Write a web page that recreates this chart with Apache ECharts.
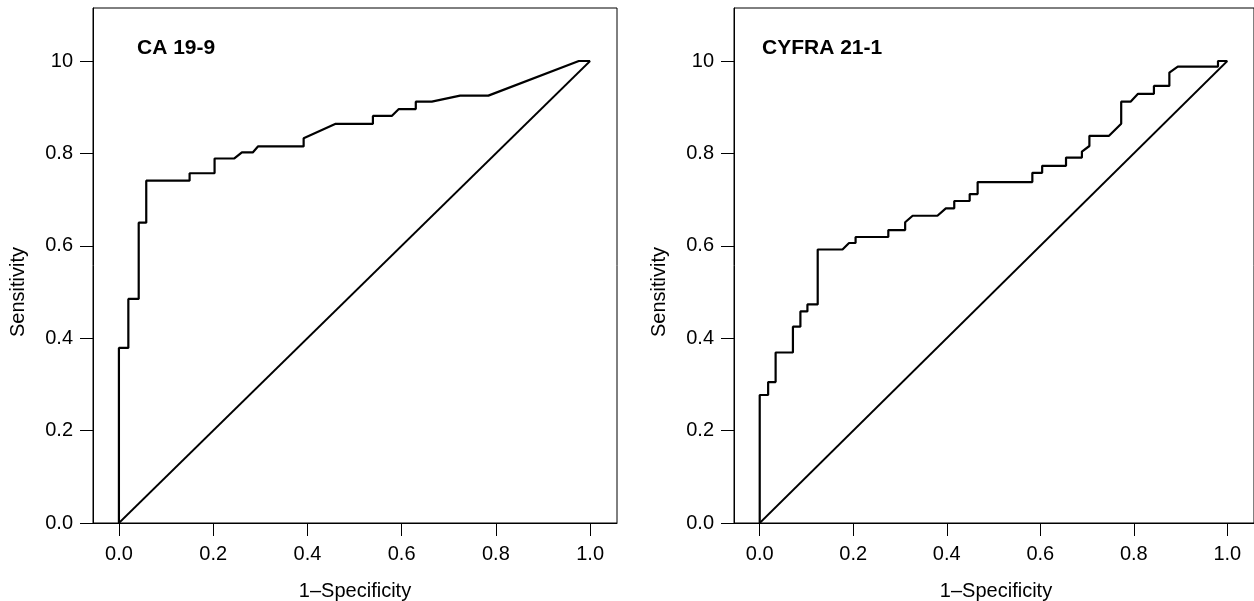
<!DOCTYPE html>
<html>
<head>
<meta charset="utf-8">
<script src="https://cdn.jsdelivr.net/npm/echarts@6/dist/echarts.min.js"></script>
<style>html,body{margin:0;padding:0;background:#fff}#c{width:1254px;height:601px}</style>
</head>
<body>
<div id="c"></div>
<script>
// ---- data ----
const panelTitles = ["CA 19-9", "CYFRA 21-1"];
const xTickValues = [0, 0.2, 0.4, 0.6, 0.8, 1.0];
const xTickLabels = ["0.0", "0.2", "0.4", "0.6", "0.8", "1.0"];
const yTickValues = [0, 0.2, 0.4, 0.6, 0.8, 1.0];
const yTickLabels = ["0.0", "0.2", "0.4", "0.6", "0.8", "10"];
const xAxisName = "1\u2013Specificity";
const yAxisName = "Sensitivity";

// CA 19-9 ROC vertices (1-specificity, sensitivity)
const caFpr = [0, 0, 0.020, 0.020, 0.042, 0.042, 0.058, 0.058, 0.150, 0.150, 0.203, 0.203, 0.245, 0.261, 0.284, 0.295, 0.392, 0.392, 0.460, 0.539, 0.539, 0.579, 0.594, 0.630, 0.630, 0.664, 0.724, 0.784, 0.976, 1.0];
const caTpr = [0, 0.379, 0.379, 0.485, 0.485, 0.650, 0.650, 0.741, 0.741, 0.757, 0.757, 0.789, 0.789, 0.802, 0.802, 0.815, 0.815, 0.833, 0.864, 0.864, 0.881, 0.881, 0.896, 0.896, 0.912, 0.912, 0.925, 0.925, 1.0, 1.0];

// CYFRA 21-1 ROC vertices
const cyFpr = [0, 0, 0.018, 0.018, 0.034, 0.034, 0.071, 0.071, 0.087, 0.087, 0.102, 0.102, 0.124, 0.124, 0.177, 0.191, 0.205, 0.205, 0.275, 0.275, 0.311, 0.311, 0.327, 0.380, 0.398, 0.416, 0.416, 0.449, 0.449, 0.466, 0.466, 0.583, 0.583, 0.604, 0.604, 0.655, 0.655, 0.689, 0.689, 0.705, 0.705, 0.747, 0.773, 0.773, 0.793, 0.809, 0.843, 0.843, 0.876, 0.876, 0.894, 0.980, 0.980, 1.0];
const cyTpr = [0, 0.277, 0.277, 0.305, 0.305, 0.369, 0.369, 0.425, 0.425, 0.458, 0.458, 0.473, 0.473, 0.592, 0.592, 0.606, 0.606, 0.619, 0.619, 0.634, 0.634, 0.651, 0.665, 0.665, 0.681, 0.681, 0.697, 0.697, 0.712, 0.712, 0.738, 0.738, 0.758, 0.758, 0.773, 0.773, 0.791, 0.791, 0.804, 0.816, 0.838, 0.838, 0.864, 0.912, 0.912, 0.929, 0.929, 0.946, 0.946, 0.975, 0.988, 0.988, 1.0, 1.0];

// chance line
const refX = [0, 1];
const refY = [0, 1];

// ---- build ----
const FONT = '"Liberation Sans", Arial, Helvetica, sans-serif';
const FS = 20;
function pairs(xs, ys) { return xs.map((x, i) => [x, ys[i]]); }

const grids = [
  { left: 93, top: 8, width: 524, height: 515 },
  { left: 734, top: 8, width: 524, height: 515 }
];

const xAxes = grids.map((g, i) => ({
  type: 'value', gridIndex: i, min: -0.055, max: 1.057,
  splitLine: { show: false },
  axisLine: { show: true, onZero: false, lineStyle: { color: '#000', width: 1 } },
  axisTick: { show: true, length: 13, inside: false, customValues: xTickValues, lineStyle: { color: '#000' } },
  axisLabel: {
    show: true, customValues: xTickValues, margin: 21, color: '#000', fontSize: FS, fontFamily: FONT,
    formatter: v => { const k = xTickValues.findIndex(t => Math.abs(t - v) < 1e-6); return k >= 0 ? xTickLabels[k] : ''; }
  }
}));
const yAxes = grids.map((g, i) => ({
  type: 'value', gridIndex: i, min: 0, max: 1.1147,
  splitLine: { show: false },
  axisLine: { show: true, onZero: false, lineStyle: { color: '#000', width: 1 } },
  axisTick: { show: true, length: 13, inside: false, customValues: yTickValues, lineStyle: { color: '#000' } },
  axisLabel: {
    show: true, customValues: yTickValues, margin: 20, color: '#000', fontSize: FS, fontFamily: FONT,
    formatter: v => { const k = yTickValues.findIndex(t => Math.abs(t - v) < 1e-6); return k >= 0 ? yTickLabels[k] : ''; }
  }
}));

const curveStyle = { color: '#000', width: 2.2 };
const refStyle = { color: '#000', width: 1.8 };
const series = [
  { type: 'line', xAxisIndex: 0, yAxisIndex: 0, data: pairs(caFpr, caTpr), showSymbol: false, lineStyle: curveStyle, animation: false, silent: true },
  { type: 'line', xAxisIndex: 0, yAxisIndex: 0, data: pairs(refX, refY), showSymbol: false, lineStyle: refStyle, animation: false, silent: true },
  { type: 'line', xAxisIndex: 1, yAxisIndex: 1, data: pairs(cyFpr, cyTpr), showSymbol: false, lineStyle: curveStyle, animation: false, silent: true },
  { type: 'line', xAxisIndex: 1, yAxisIndex: 1, data: pairs(refX, refY), showSymbol: false, lineStyle: refStyle, animation: false, silent: true }
];

const titleStyle = { color: '#000', fontSize: 21, fontWeight: 'bold', fontFamily: FONT };
const nameStyle = { fill: '#000', fontSize: FS, fontFamily: FONT, textAlign: 'center', textVerticalAlign: 'middle' };

const chart = echarts.init(document.getElementById('c'), null, { renderer: 'canvas' });
chart.setOption({
  backgroundColor: '#fff',
  animation: false,
  title: [
    { text: panelTitles[0], left: 137, top: 38, textStyle: titleStyle, padding: 0 },
    { text: panelTitles[1], left: 762, top: 38, textStyle: titleStyle, padding: 0 }
  ],
  grid: grids.map(g => Object.assign({ show: true, borderColor: '#000', borderWidth: 1, backgroundColor: 'transparent', containLabel: false }, g)),
  xAxis: xAxes,
  yAxis: yAxes,
  series: series,
  graphic: [
    { type: 'text', x: 355, y: 591, style: Object.assign({ text: xAxisName }, nameStyle) },
    { type: 'text', x: 996, y: 591, style: Object.assign({ text: xAxisName }, nameStyle) },
    { type: 'text', x: 18, y: 292, rotation: Math.PI / 2, style: Object.assign({ text: yAxisName }, nameStyle) },
    { type: 'text', x: 659, y: 292, rotation: Math.PI / 2, style: Object.assign({ text: yAxisName }, nameStyle) }
  ]
});
</script>
</body>
</html>
